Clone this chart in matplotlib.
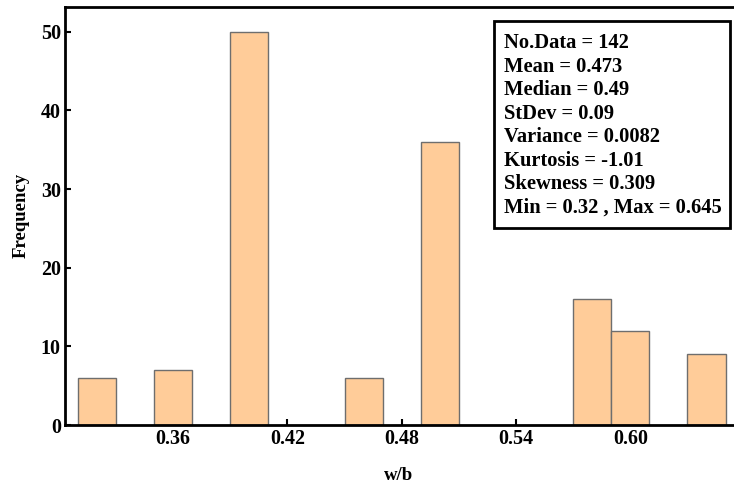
import matplotlib.pyplot as plt
from matplotlib.patches import Rectangle

# histogram of w/b, bin width 0.02
bin_centers = [0.32, 0.36, 0.40, 0.46, 0.50, 0.58, 0.60, 0.64]
frequency = [6, 7, 50, 6, 36, 16, 12, 9]
bin_width = 0.02

x_ticks = [0.36, 0.42, 0.48, 0.54, 0.60]
y_ticks = [0, 10, 20, 30, 40, 50]

stats_lines = [
    "No.Data = 142",
    "Mean = 0.473",
    "Median = 0.49",
    "StDev = 0.09",
    "Variance = 0.0082",
    "Kurtosis = -1.01",
    "Skewness = 0.309",
    "Min = 0.32 , Max = 0.645",
]

plt.rcParams['font.family'] = 'Liberation Serif'
plt.rcParams['font.weight'] = 'bold'

fig = plt.figure(figsize=(7.34, 4.84), dpi=100)
ax = fig.add_axes([0.0886, 0.1219, 0.9100, 0.8643])

ax.bar(bin_centers, frequency, width=bin_width, color='#FFCC99',
       edgecolor='#6e6e6e', linewidth=1.0, zorder=2)

ax.set_xlim(0.3033, 0.6539)
ax.set_ylim(0, 53.2)
ax.set_xticks(x_ticks)
ax.set_xticklabels([f"{t:.2f}" for t in x_ticks])
ax.set_yticks(y_ticks)

ax.tick_params(direction='in', length=4, width=1.5, labelsize=14.4, pad=3)
for lbl in ax.get_xticklabels() + ax.get_yticklabels():
    lbl.set_fontweight('bold')

ax.spines['right'].set_visible(False)
for side in ('left', 'bottom', 'top'):
    ax.spines[side].set_linewidth(2.0)

ax.set_xlabel("w/b", fontsize=13.5, fontweight='bold', labelpad=12.5)
ax.set_ylabel("Frequency", fontsize=13.5, fontweight='bold', labelpad=8)

# statistics box in the upper right corner
ax.add_patch(Rectangle((0.6427, 0.4717), 0.3528, 0.4948, transform=ax.transAxes,
                       facecolor='white', edgecolor='black', linewidth=2.0,
                       zorder=3, clip_on=False))
for k, line in enumerate(stats_lines):
    ax.text(0.6570, 0.9005 - 0.05618 * k, line, transform=ax.transAxes,
            ha='left', va='baseline', fontsize=14.75, fontweight='bold',
            zorder=4)

fig.savefig("out.png", dpi=100)
